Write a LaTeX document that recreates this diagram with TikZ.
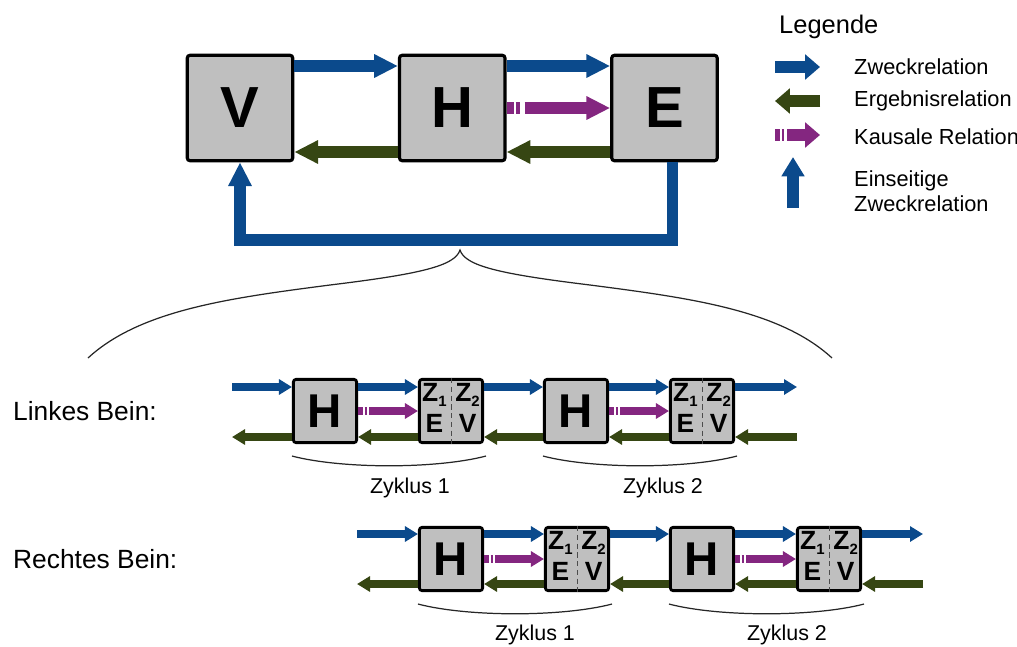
\documentclass[tikz,border=0pt]{standalone}
\usepackage{fontspec}
\setmainfont{Liberation Sans}
\usetikzlibrary{arrows.meta, positioning, calc}
\definecolor{zweckblau}{HTML}{0B4A8C}
\definecolor{ergebnisgruen}{HTML}{364613}
\definecolor{kausallila}{HTML}{842680}
\definecolor{kastengrau}{HTML}{BFBFBF}
\newcommand{\zsub}[1]{\raisebox{-2.5pt}{\fontsize{8.5}{8.5}\selectfont #1}}

\begin{document}
\begin{tikzpicture}[
  x=0.02cm, y=-0.02cm,
  kasten/.style={
    rectangle, rounded corners=1.5pt,
    minimum size=60pt, inner sep=0pt,
    draw=black, line width=1.8pt,
    fill=kastengrau, font=\fontsize{33}{36}\selectfont\bfseries
  },
  kleinkasten/.style={
    kasten, minimum size=36pt, line width=1.6pt,
    font=\fontsize{27}{30}\selectfont\bfseries
  },
  zkasten/.style={kleinkasten, font=\fontsize{15}{17.5}\selectfont\bfseries},
  trenner/.style={densely dashed, line width=0.4pt, black!70},
  zweck/.style={-{Triangle[length=13.5pt, width=12.5pt]}, line width=6.8pt, draw=zweckblau},
  ergebnis/.style={zweck, draw=ergebnisgruen},
  kausal/.style={zweck, draw=kausallila},
  anlauf/.style={draw=kausallila, line width=6.8pt, dash pattern=on 4pt off 1.2pt on 2.4pt off 10pt},
  zweckklein/.style={-{Triangle[length=7.4pt, width=8.5pt]}, line width=4pt, draw=zweckblau},
  ergebnisklein/.style={zweckklein, draw=ergebnisgruen},
  kausalklein/.style={zweckklein, draw=kausallila},
  anlaufklein/.style={anlauf, line width=4pt, dash pattern=on 2.8pt off 0.9pt on 1.5pt off 10pt},
  legpfeil/.style={-{Triangle[length=8.5pt, width=14pt]}, line width=6.8pt},
  klammer/.style={draw=black!85, line width=0.7pt},
  legtext/.style={anchor=west, font=\fontsize{12.4}{14.5}\selectfont, align=left},
  zyklus/.style={font=\fontsize{12.2}{14}\selectfont},
  bein/.style={anchor=west, font=\fontsize{15}{18}\selectfont}
]
\useasboundingbox (0,0) rectangle (1017,646);

% Hauptkreis
\node[kasten] (V) at (240,108) {V};
\node[kasten, right=59pt of V] (H) {H};
\node[kasten, right=59pt of H] (E) {E};

\coordinate (zw) at (0,66);
\coordinate (er) at (0,152);

\draw[zweck] (V.east |- zw) -- (H.west |- zw);
\draw[zweck] (H.east |- zw) -- (E.west |- zw);
\draw[ergebnis] (E.west |- er) -- (H.east |- er);
\draw[ergebnis] (H.west |- er) -- (V.east |- er);
\draw[anlauf] (H.east) -- ++(18,0) coordinate (k0);
\draw[kausal] (k0) -- (E.west);

% Rueckfuehrung
\draw[zweck] ($(E.south)+(8,0)$) -- ++(0,78) -| (V.south);

% Legende
\node[anchor=west, font=\fontsize{14.5}{17}\selectfont] (leg) at (773,27) {Legende};
\coordinate (l1a) at (775,67);  \coordinate (l1b) at (820,67);
\coordinate (l2a) at (820,101); \coordinate (l2b) at (775,101);
\coordinate (l3a) at (775,135); \coordinate (l3b) at (820,135);
\coordinate (l4a) at (793,208); \coordinate (l4b) at (793,157);
\draw[legpfeil, zweckblau] (l1a) -- (l1b);
\draw[legpfeil, ergebnisgruen] (l2a) -- (l2b);
\draw[anlauf, dash pattern=on 3pt off 0.8pt on 1.6pt off 10pt] (l3a) -- ++(12,0) coordinate (l3m);
\draw[legpfeil, kausallila] (l3m) -- (l3b);
\draw[legpfeil, zweckblau, -{Triangle[length=11pt, width=12.5pt]}] (l4a) -- (l4b);
\node[legtext] (t1) at (848,67) {Zweckrelation};
\node[legtext] (t2) at (848,101) {Ergebnisrelation};
\node[legtext] (t3) at (848,137) {Kausale Relation};
\node[legtext] (t4) at (848,191) {Einseitige\\Zweckrelation};

% Klammer
\coordinate (spitze) at (460,250);
\draw[klammer] (88,358) .. controls (140,310) and (230,298) .. (330,285)
  .. controls (420,274) and (455,266) .. (spitze)
  .. controls (465,266) and (500,274) .. (590,285)
  .. controls (690,298) and (780,310) .. (832,358);

% Linkes Bein
\node[bein] (lb) at (7,411) {Linkes Bein:};
\node[kleinkasten] (lh1) at (325,411) {H};
\node[zkasten] (lz1) at (451,411) {\begin{tabular}{@{}c@{\hspace{5pt}}c@{}}Z\zsub{1} & Z\zsub{2}\\ E & V\end{tabular}};
\node[kleinkasten] (lh2) at (576,411) {H};
\node[zkasten] (lz2) at (702,411) {\begin{tabular}{@{}c@{\hspace{5pt}}c@{}}Z\zsub{1} & Z\zsub{2}\\ E & V\end{tabular}};
\draw[trenner] (lz1.north) -- (lz1.south);
\draw[trenner] (lz2.north) -- (lz2.south);

\coordinate (lzin) at (232,387);
\coordinate (lzaus) at (797,387);
\coordinate (lerin) at (797,437);
\coordinate (leraus) at (232,437);

\draw[zweckklein] (lzin) -- (lh1.west |- lzin);
\draw[zweckklein] (lh1.east |- lzin) -- (lz1.west |- lzin);
\draw[zweckklein] (lz1.east |- lzin) -- (lh2.west |- lzin);
\draw[zweckklein] (lh2.east |- lzin) -- (lz2.west |- lzin);
\draw[zweckklein] (lz2.east |- lzin) -- (lzaus);
\draw[ergebnisklein] (lerin) -- (lz2.east |- lerin);
\draw[ergebnisklein] (lz2.west |- lerin) -- (lh2.east |- lerin);
\draw[ergebnisklein] (lh2.west |- lerin) -- (lz1.east |- lerin);
\draw[ergebnisklein] (lz1.west |- lerin) -- (lh1.east |- lerin);
\draw[ergebnisklein] (lh1.west |- lerin) -- (leraus);
\draw[anlaufklein] (lh1.east) -- ++(11,0) coordinate (lk1);
\draw[kausalklein] (lk1) -- (lz1.west);
\draw[anlaufklein] (lh2.east) -- ++(11,0) coordinate (lk2);
\draw[kausalklein] (lk2) -- (lz2.west);

\draw[klammer] ($(lh1.south west)+(0,12)$) .. controls +(50,13) and +(-50,13) .. ($(lz1.south east)+(2,12)$);
\draw[klammer] ($(lh2.south west)+(0,12)$) .. controls +(50,13) and +(-50,13) .. ($(lz2.south east)+(2,12)$);
\node[zyklus] (lzy1) at (410,488) {Zyklus 1};
\node[zyklus] (lzy2) at (663,488) {Zyklus 2};

% Rechtes Bein
\node[bein] (rb) at (7,559) {Rechtes Bein:};
\node[kleinkasten] (rh1) at (451,559) {H};
\node[zkasten] (rz1) at (577,559) {\begin{tabular}{@{}c@{\hspace{5pt}}c@{}}Z\zsub{1} & Z\zsub{2}\\ E & V\end{tabular}};
\node[kleinkasten] (rh2) at (702,559) {H};
\node[zkasten] (rz2) at (829,559) {\begin{tabular}{@{}c@{\hspace{5pt}}c@{}}Z\zsub{1} & Z\zsub{2}\\ E & V\end{tabular}};
\draw[trenner] (rz1.north) -- (rz1.south);
\draw[trenner] (rz2.north) -- (rz2.south);

\coordinate (rzin) at (357,534);
\coordinate (rzaus) at (923,534);
\coordinate (rerin) at (923,584);
\coordinate (reraus) at (357,584);

\draw[zweckklein] (rzin) -- (rh1.west |- rzin);
\draw[zweckklein] (rh1.east |- rzin) -- (rz1.west |- rzin);
\draw[zweckklein] (rz1.east |- rzin) -- (rh2.west |- rzin);
\draw[zweckklein] (rh2.east |- rzin) -- (rz2.west |- rzin);
\draw[zweckklein] (rz2.east |- rzin) -- (rzaus);
\draw[ergebnisklein] (rerin) -- (rz2.east |- rerin);
\draw[ergebnisklein] (rz2.west |- rerin) -- (rh2.east |- rerin);
\draw[ergebnisklein] (rh2.west |- rerin) -- (rz1.east |- rerin);
\draw[ergebnisklein] (rz1.west |- rerin) -- (rh1.east |- rerin);
\draw[ergebnisklein] (rh1.west |- rerin) -- (reraus);
\draw[anlaufklein] (rh1.east) -- ++(11,0) coordinate (rk1);
\draw[kausalklein] (rk1) -- (rz1.west);
\draw[anlaufklein] (rh2.east) -- ++(11,0) coordinate (rk2);
\draw[kausalklein] (rk2) -- (rz2.west);

\draw[klammer] ($(rh1.south west)+(0,12)$) .. controls +(50,13) and +(-50,13) .. ($(rz1.south east)+(2,12)$);
\draw[klammer] ($(rh2.south west)+(0,12)$) .. controls +(50,13) and +(-50,13) .. ($(rz2.south east)+(2,12)$);
\node[zyklus] (rzy1) at (535,635) {Zyklus 1};
\node[zyklus] (rzy2) at (787,635) {Zyklus 2};

\end{tikzpicture}
\end{document}
